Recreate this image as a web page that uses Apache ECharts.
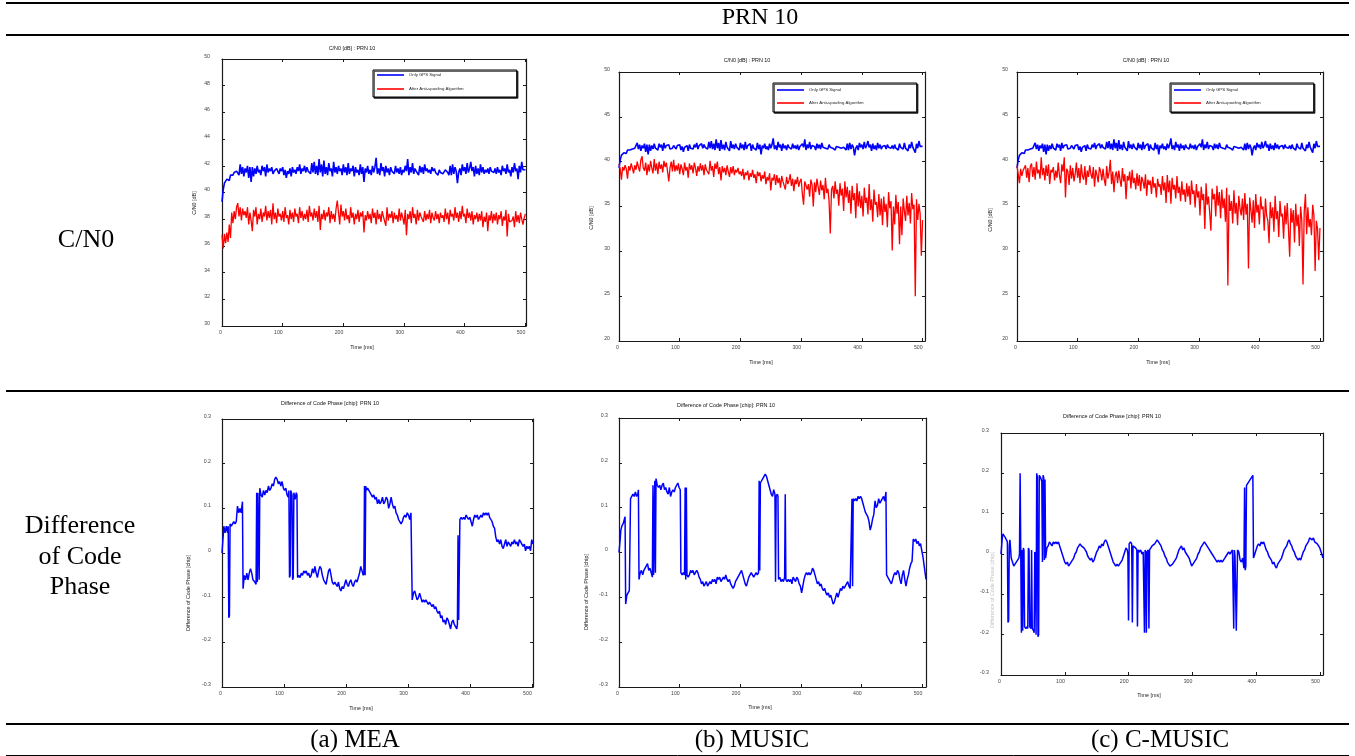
<!DOCTYPE html>
<html><head><meta charset="utf-8">
<script src="https://cdn.jsdelivr.net/npm/echarts@6/dist/echarts.min.js"></script>
<style>html,body{margin:0;padding:0;background:#fff}#c{width:1355px;height:756px}</style>
</head><body><div id="c"></div>
<script>
// ---------------- DATA ----------------
const cn0Step = 2; // ms between C/N0 samples (t = 0..500)
const columnLabels = ['(a) MEA', '(b) MUSIC', '(c) C-MUSIC'];
const rowLabels = ['C/N0', 'Difference\nof Code\nPhase'];
const headerLabel = 'PRN 10';
const legendNames = ['Only GPS Signal', 'After Anti-spoofing Algorithm'];

const gpsOnlyCn0 = [
39.3,40.2,40.7,40.6,41.0,41.1,40.9,41.3,41.4,41.3,41.5,41.4,41.6,41.5,41.3,42.1,41.4,41.9,41.2,41.8,41.5,42.0,41.1,41.9,40.8,
41.9,41.2,41.8,41.4,42.0,41.5,41.7,41.3,42.0,41.6,41.9,41.2,42.1,41.5,41.8,41.6,41.9,41.4,41.6,41.5,41.8,41.7,41.4,41.8,41.6,
41.9,41.3,41.7,41.1,41.6,41.4,41.8,41.2,41.9,41.5,41.7,41.4,41.9,41.6,42.1,41.4,41.8,41.6,42.0,41.5,41.9,41.6,41.7,41.4,42.2,
41.5,42.3,41.4,42.0,41.3,42.5,41.5,42.1,41.2,42.4,41.4,41.9,41.3,42.2,41.6,41.8,41.2,42.3,41.5,41.9,41.4,42.0,41.6,41.8,41.3,
42.1,41.5,41.9,41.3,42.2,41.4,41.8,41.6,42.0,41.2,41.9,41.5,41.7,41.3,42.1,41.4,41.9,40.8,41.8,41.5,42.0,41.4,41.7,41.3,42.0,
41.5,41.9,42.6,41.4,41.8,41.3,42.2,41.6,41.9,41.2,42.0,41.5,41.8,41.3,41.9,41.6,41.7,41.4,42.0,41.5,41.8,41.4,41.9,41.3,41.7,
41.5,42.0,41.6,42.5,41.3,41.9,41.5,42.2,41.4,41.8,41.6,41.7,41.3,42.0,41.5,41.9,41.4,42.1,41.6,41.8,41.5,41.7,41.4,41.9,41.6,
41.8,41.5,41.6,41.3,41.7,41.5,41.6,41.4,41.5,41.7,41.6,41.5,41.3,42.0,41.3,42.1,41.4,41.9,41.6,40.7,41.5,41.8,41.3,42.1,41.6,
41.9,41.4,42.2,41.5,41.8,42.3,41.6,41.9,41.2,42.0,41.4,41.8,41.3,42.1,41.5,41.9,41.4,41.7,41.5,41.8,41.4,41.9,41.6,41.7,41.5,
41.8,41.4,41.9,41.5,41.7,41.3,42.0,41.6,41.8,41.4,42.1,41.5,41.7,41.2,41.9,41.5,42.2,41.6,41.8,41.0,42.0,41.5,42.3,41.7,41.8,
41.7];

const meaCn0 = [
36.8,35.8,36.9,36.2,37.0,36.3,37.6,36.6,38.5,37.7,38.6,38.0,38.9,39.2,38.2,38.9,37.9,38.8,38.3,38.6,38.1,38.9,37.6,38.5,37.9,
37.1,38.7,38.2,38.9,37.6,38.4,38.0,38.8,37.8,38.5,38.2,39.0,37.9,38.6,38.1,38.7,37.6,39.2,38.0,38.5,37.7,38.8,38.2,38.4,37.9,
38.6,37.8,38.9,38.1,38.3,37.6,38.7,38.0,38.5,37.8,38.8,38.2,38.4,37.7,38.9,38.1,38.6,37.9,38.4,38.0,38.7,37.8,39.0,38.2,38.5,
37.9,38.8,38.1,38.6,37.8,39.0,37.2,38.4,38.0,38.7,37.9,38.5,38.2,38.9,37.7,38.6,38.0,38.4,37.8,38.8,39.4,38.5,37.6,39.1,38.2,
38.6,37.9,38.8,38.0,38.3,37.7,38.9,38.1,38.5,37.6,38.4,38.0,38.7,37.8,38.5,38.2,38.6,37.0,38.3,37.9,38.6,38.0,38.4,37.7,38.8,
38.1,38.5,37.6,38.7,38.0,38.4,37.8,38.6,38.2,38.3,37.5,38.9,37.9,38.4,38.1,38.6,37.7,38.5,38.0,38.3,37.8,38.8,37.9,38.5,38.1,
37.6,38.7,36.8,38.4,38.0,38.6,37.7,38.9,38.1,38.4,37.6,38.7,37.9,38.5,38.2,38.3,37.8,38.6,37.9,38.4,38.0,38.7,37.7,38.5,38.1,
37.9,38.6,38.0,38.4,37.7,38.5,38.1,38.3,37.8,38.8,38.0,38.5,37.6,38.7,38.2,38.4,37.9,38.9,38.1,38.5,37.8,38.6,38.0,39.0,38.2,
38.4,37.7,38.8,38.1,38.5,37.9,38.6,37.6,38.3,38.0,38.5,37.8,38.4,37.9,38.6,37.4,38.2,37.8,38.5,37.1,38.3,37.9,38.6,37.7,38.4,
37.9,38.5,37.6,38.3,38.0,38.6,37.5,38.2,37.9,38.7,36.7,38.4,37.8,37.7,37.9,38.2,37.4,38.6,37.8,38.3,37.7,38.5,38.0,37.6,38.1,
38.4];

const musicCn0 = [
39.7,39.2,38.0,39.4,39.0,39.6,39.2,38.1,39.5,39.0,39.8,39.3,38.7,39.6,39.1,40.0,39.4,38.9,40.2,40.6,39.3,39.0,39.9,38.5,39.7,
38.9,40.1,39.3,38.7,40.3,39.0,39.8,38.6,40.0,39.2,39.7,38.8,40.1,39.4,39.9,38.9,37.8,39.3,40.0,38.9,40.2,38.9,39.6,39.0,39.8,
38.6,39.7,39.2,38.5,39.9,39.0,39.4,38.2,39.8,39.1,39.6,38.7,39.9,39.3,38.4,39.5,38.9,39.8,39.0,39.6,38.5,39.7,39.1,39.3,38.6,
40.1,39.0,39.5,38.3,39.8,39.2,40.0,38.6,39.4,37.9,39.5,38.8,39.3,38.5,39.6,38.9,38.3,39.4,38.7,39.5,38.5,39.1,38.8,39.3,38.6,
38.9,38.4,39.2,38.0,38.8,38.5,39.0,37.9,38.7,38.3,39.1,38.2,38.6,37.6,38.9,38.4,38.8,37.8,38.5,38.1,38.9,37.5,38.3,37.9,38.7,
36.8,38.2,37.9,38.6,37.4,38.5,37.6,38.2,37.1,38.4,37.8,38.0,36.9,38.3,37.5,37.9,38.6,37.3,38.1,36.7,38.0,37.5,38.3,37.2,37.8,
38.1,36.4,35.2,37.8,38.0,36.9,37.5,36.1,38.0,37.4,35.0,37.7,36.6,38.1,37.2,36.3,37.9,36.8,37.4,35.8,38.2,36.5,37.0,35.6,32.0,
36.9,37.3,35.9,37.8,36.4,36.9,35.1,37.6,36.2,37.0,34.5,37.8,36.0,37.2,35.4,36.8,34.2,37.3,35.7,36.5,33.7,37.6,35.0,36.7,34.8,
36.2,33.9,37.1,35.4,36.0,34.1,37.5,34.6,35.8,33.3,36.9,35.2,35.5,33.8,36.4,34.0,35.9,32.9,36.1,34.4,35.3,32.7,36.6,34.8,35.6,
30.1,35.0,33.0,36.3,34.2,35.5,30.8,35.0,31.8,35.9,34.5,33.4,36.2,34.0,35.4,33.1,36.5,34.7,35.2,25.0,35.8,33.5,35.3,34.2,29.5,
33.5];

const cmusicCn0 = [
39.5,38.6,37.6,39.2,38.4,39.0,38.9,39.6,38.2,39.3,37.7,39.5,39.8,38.3,39.4,38.0,40.0,38.7,39.1,38.1,40.5,38.5,39.3,37.9,39.6,
38.4,39.7,37.5,39.1,38.8,39.4,37.9,39.0,38.2,39.9,38.5,37.6,39.7,38.9,40.5,36.0,39.2,38.9,37.4,39.6,38.1,39.3,37.8,38.6,39.9,
38.2,39.3,37.6,39.7,38.4,38.0,39.5,37.4,39.0,38.3,39.6,38.6,38.1,39.4,37.2,39.1,38.5,37.7,39.4,38.9,37.9,39.2,38.0,37.3,39.5,
38.1,38.8,40.2,37.5,38.9,36.6,38.4,38.9,37.6,39.0,38.0,37.2,39.3,37.8,38.6,35.8,38.4,37.9,38.9,37.0,39.1,37.6,38.2,36.9,38.7,
37.3,38.5,36.7,38.3,37.8,37.0,38.6,36.2,38.0,37.4,37.9,36.4,38.3,37.1,37.6,36.0,38.1,37.2,37.5,36.3,38.4,36.8,37.7,35.4,38.5,
36.6,37.9,35.3,38.2,36.9,37.4,35.9,38.4,36.5,37.2,35.6,37.8,36.3,36.9,35.5,37.6,36.1,37.3,35.2,37.9,36.4,36.8,34.9,37.5,36.0,
36.7,34.0,37.2,35.7,36.4,32.5,37.6,35.2,36.1,34.3,32.3,37.0,35.8,36.4,33.9,37.3,35.1,36.6,33.7,36.9,34.8,35.9,33.3,37.1,26.2,
36.3,34.5,35.6,33.1,36.8,34.2,35.4,32.9,36.2,34.8,34.0,35.9,33.5,36.5,34.1,35.3,28.1,36.0,34.6,33.2,35.7,32.6,36.4,34.3,35.2,
33.0,36.1,34.7,35.0,32.3,35.9,34.0,33.4,30.9,35.5,33.7,34.9,32.2,36.2,33.6,34.5,31.6,35.6,33.9,34.2,31.4,35.1,33.0,35.4,32.5,
29.4,34.8,33.2,34.6,31.0,35.3,32.8,34.1,30.6,35.0,33.5,26.3,34.4,36.4,31.9,34.9,32.7,33.6,31.8,35.2,34.0,27.8,33.4,32.5,29.0,
32.6];

// code phase difference [chip] as [time ms, value]
const meaPhase = [[0,0],[2,0.04],[3,0.06],[5,0.045],[7,0.06],[9,0.045],[10,0.06],[11,-0.145],[12,-0.14],[13,0.065],[15,0.06],[17,0.065],[19,0.07],[21,0.065],[23,0.07],[25,0.105],[27,0.09],[29,0.1],[31,0.09],[33,0.115],[34,-0.08],[36,-0.05],[38,-0.06],[40,-0.045],[42,-0.06],[44,-0.045],[46,-0.035],[48,-0.045],[50,-0.06],[53,-0.065],[55,-0.07],[56,0.135],[57,-0.065],[58,0.135],[60,-0.06],[61,0.145],[63,0.13],[65,0.125],[67,0.14],[69,0.13],[71,0.14],[73,0.135],[75,0.15],[77,0.14],[79,0.145],[81,0.155],[83,0.15],[85,0.165],[87,0.17],[89,0.165],[91,0.155],[93,0.16],[95,0.15],[97,0.16],[99,0.145],[101,0.14],[103,0.145],[105,0.13],[107,0.125],[108,0.14],[109,-0.055],[110,-0.05],[111,0.14],[113,0.13],[114,-0.06],[115,-0.055],[116,0.135],[118,0.12],[120,0.135],[121,0.13],[122,-0.055],[124,-0.05],[126,-0.055],[128,-0.045],[130,-0.05],[132,-0.04],[134,-0.045],[136,-0.04],[138,-0.05],[140,-0.045],[142,-0.055],[144,-0.05],[146,-0.035],[148,-0.045],[150,-0.03],[152,-0.045],[154,-0.055],[156,-0.04],[158,-0.03],[160,-0.035],[162,-0.05],[164,-0.06],[166,-0.065],[168,-0.07],[170,-0.055],[172,-0.04],[174,-0.035],[176,-0.05],[178,-0.065],[180,-0.07],[182,-0.065],[184,-0.07],[186,-0.075],[188,-0.065],[190,-0.08],[192,-0.085],[194,-0.075],[196,-0.08],[198,-0.07],[200,-0.06],[202,-0.07],[204,-0.075],[206,-0.065],[208,-0.06],[210,-0.07],[212,-0.075],[214,-0.065],[216,-0.06],[218,-0.065],[220,-0.055],[222,-0.045],[224,-0.03],[226,-0.04],[228,-0.05],[229,-0.045],[230,0.15],[231,-0.05],[232,0.15],[233,0.14],[235,0.145],[237,0.14],[239,0.135],[241,0.13],[243,0.125],[245,0.13],[247,0.12],[249,0.125],[251,0.11],[253,0.12],[255,0.11],[257,0.115],[259,0.125],[261,0.11],[263,0.115],[265,0.125],[267,0.12],[269,0.1],[271,0.11],[273,0.125],[275,0.11],[277,0.1],[279,0.105],[281,0.09],[283,0.085],[285,0.075],[287,0.07],[289,0.065],[291,0.07],[293,0.08],[295,0.085],[297,0.08],[299,0.09],[301,0.085],[303,0.075],[305,0.09],[306,0.092],[307,-0.105],[309,-0.09],[311,-0.085],[313,-0.095],[315,-0.105],[317,-0.1],[319,-0.09],[321,-0.1],[323,-0.11],[325,-0.105],[327,-0.11],[329,-0.105],[331,-0.11],[333,-0.115],[335,-0.11],[337,-0.115],[339,-0.12],[341,-0.115],[343,-0.125],[345,-0.12],[347,-0.13],[349,-0.135],[351,-0.13],[353,-0.145],[355,-0.14],[357,-0.155],[359,-0.15],[361,-0.16],[363,-0.145],[365,-0.15],[367,-0.16],[369,-0.17],[371,-0.155],[373,-0.15],[375,-0.16],[377,-0.165],[379,-0.17],[380,-0.16],[381,0.04],[382,-0.15],[383,-0.15],[384,0.075],[386,0.08],[388,0.075],[390,0.08],[392,0.075],[394,0.085],[396,0.08],[398,0.075],[400,0.08],[402,0.07],[404,0.06],[406,0.075],[408,0.085],[410,0.08],[412,0.085],[414,0.075],[416,0.08],[418,0.085],[420,0.08],[422,0.09],[424,0.085],[426,0.09],[428,0.085],[430,0.09],[432,0.08],[434,0.075],[436,0.07],[438,0.06],[440,0.055],[442,0.035],[444,0.025],[446,0.03],[448,0.02],[450,0.03],[452,0.015],[454,0.01],[456,0.02],[458,0.03],[460,0.015],[462,0.025],[464,0.02],[466,0.015],[468,0.025],[470,0.02],[472,0.03],[474,0.02],[476,0.025],[478,0.015],[480,0.03],[482,0.025],[484,0.02],[486,0.015],[488,0.02],[490,0.005],[492,0.015],[494,0.01],[496,0.015],[498,0.005],[500,0.03],[502,0.02]];

const musicPhase = [[0,0],[2,0.03],[3,0.05],[5,0.06],[7,0.065],[9,0.075],[10,0.08],[11,-0.115],[13,-0.095],[15,-0.09],[17,-0.085],[18,-0.085],[19,0.12],[21,0.12],[23,0.13],[25,0.125],[27,0.135],[29,0.125],[31,0.13],[32,0.14],[33,-0.06],[35,-0.045],[37,-0.04],[39,-0.05],[41,-0.04],[43,-0.035],[45,-0.03],[47,-0.025],[49,-0.04],[51,-0.035],[53,-0.045],[55,-0.055],[56,0.15],[57,-0.05],[58,-0.05],[59,0.16],[60,-0.045],[61,0.165],[63,0.15],[65,0.145],[67,0.15],[69,0.14],[71,0.15],[73,0.155],[75,0.14],[77,0.145],[79,0.135],[81,0.13],[83,0.145],[85,0.125],[87,0.135],[89,0.14],[91,0.135],[93,0.145],[95,0.15],[97,0.155],[99,0.145],[101,0.14],[102,-0.045],[104,-0.05],[106,-0.045],[108,-0.05],[109,0.145],[110,-0.06],[111,0.145],[112,-0.05],[114,-0.055],[116,-0.05],[118,-0.04],[120,-0.045],[122,-0.04],[124,-0.05],[126,-0.045],[128,-0.04],[130,-0.045],[132,-0.055],[134,-0.06],[136,-0.07],[138,-0.065],[140,-0.075],[142,-0.07],[144,-0.065],[146,-0.075],[148,-0.07],[150,-0.065],[152,-0.07],[154,-0.06],[156,-0.065],[158,-0.06],[160,-0.07],[162,-0.055],[164,-0.06],[166,-0.055],[168,-0.065],[170,-0.06],[172,-0.055],[174,-0.06],[176,-0.05],[178,-0.06],[180,-0.065],[182,-0.06],[184,-0.07],[186,-0.075],[188,-0.08],[190,-0.075],[192,-0.065],[194,-0.06],[196,-0.055],[198,-0.05],[200,-0.045],[202,-0.04],[204,-0.05],[206,-0.06],[208,-0.07],[210,-0.075],[212,-0.065],[214,-0.055],[216,-0.05],[218,-0.045],[220,-0.05],[222,-0.055],[224,-0.05],[226,-0.045],[228,-0.05],[230,-0.045],[231,0.16],[232,-0.04],[233,0.155],[235,0.16],[237,0.165],[239,0.17],[241,0.175],[243,0.17],[245,0.16],[247,0.15],[249,0.14],[251,0.13],[253,0.125],[255,0.14],[257,0.13],[258,-0.065],[259,0.125],[261,0.13],[262,0.125],[263,-0.06],[265,-0.055],[267,-0.065],[269,-0.06],[271,-0.065],[273,-0.055],[274,0.13],[275,-0.06],[277,-0.065],[279,-0.06],[281,-0.065],[283,-0.06],[285,-0.07],[287,-0.055],[289,-0.06],[291,-0.065],[293,-0.055],[295,-0.06],[297,-0.07],[299,-0.075],[301,-0.09],[303,-0.075],[305,-0.06],[307,-0.05],[309,-0.045],[311,-0.05],[313,-0.045],[315,-0.05],[317,-0.045],[319,-0.035],[321,-0.04],[323,-0.05],[325,-0.06],[327,-0.07],[329,-0.065],[331,-0.075],[333,-0.07],[335,-0.08],[337,-0.085],[339,-0.08],[341,-0.09],[343,-0.095],[345,-0.09],[347,-0.1],[349,-0.095],[351,-0.105],[353,-0.115],[355,-0.11],[357,-0.1],[359,-0.09],[361,-0.1],[363,-0.09],[365,-0.08],[367,-0.085],[369,-0.075],[371,-0.08],[373,-0.075],[375,-0.07],[377,-0.065],[379,-0.075],[381,-0.08],[383,-0.08],[384,0.12],[385,-0.075],[386,0.12],[388,0.115],[390,0.12],[392,0.115],[394,0.125],[396,0.12],[398,0.125],[400,0.12],[402,0.11],[404,0.1],[406,0.09],[408,0.085],[410,0.08],[412,0.07],[414,0.05],[416,0.06],[418,0.075],[420,0.085],[422,0.115],[424,0.1],[426,0.105],[428,0.12],[430,0.11],[432,0.115],[434,0.12],[436,0.125],[438,0.115],[440,0.135],[441,-0.05],[443,-0.055],[445,-0.06],[447,-0.065],[449,-0.07],[451,-0.06],[453,-0.05],[455,-0.045],[457,-0.05],[459,-0.04],[461,-0.045],[463,-0.06],[465,-0.07],[467,-0.05],[469,-0.04],[471,-0.06],[473,-0.075],[475,-0.06],[477,-0.05],[479,-0.035],[481,-0.025],[483,-0.02],[485,0.03],[487,0.025],[489,0.03],[491,0.02],[493,0.025],[495,0.015],[497,0.02],[499,0.005],[501,-0.01],[503,-0.03],[505,-0.05],[506,-0.06]];

const cmusicPhase = [[0,0],[2,0.04],[3,0.05],[5,0.045],[7,0.04],[9,0.04],[10,0.03],[11,-0.17],[12,-0.165],[13,0.02],[14,0.035],[16,-0.01],[18,-0.02],[20,-0.03],[22,-0.025],[24,-0.02],[26,-0.02],[28,-0.01],[29,0.0],[30,0.2],[31,0.0],[32,-0.195],[33,0.01],[34,-0.19],[35,0.015],[36,0.01],[37,-0.18],[39,-0.185],[41,-0.18],[42,-0.185],[43,0.015],[44,0.01],[45,-0.18],[47,-0.185],[48,0.01],[49,-0.185],[51,-0.19],[52,-0.195],[53,0.005],[54,0.0],[55,-0.2],[56,0.2],[57,0.19],[58,-0.205],[59,-0.2],[60,0.195],[62,0.19],[64,0.18],[65,-0.02],[66,0.195],[67,0.19],[68,-0.015],[69,0.185],[70,-0.01],[72,0.015],[74,0.02],[76,0.03],[78,0.025],[80,0.02],[82,0.03],[84,0.025],[86,0.03],[88,0.025],[90,0.03],[92,0.02],[94,0.01],[96,0.0],[98,-0.01],[100,-0.02],[102,-0.025],[104,-0.02],[106,-0.03],[108,-0.025],[110,-0.02],[112,-0.015],[114,-0.01],[116,0.0],[118,0.005],[120,0.015],[122,0.02],[124,0.025],[126,0.02],[128,0.02],[130,0.015],[132,0.01],[134,0.005],[136,-0.005],[138,-0.01],[140,-0.015],[142,-0.01],[144,-0.02],[146,-0.015],[148,-0.005],[150,0.005],[152,0.01],[154,0.02],[156,0.015],[158,0.025],[160,0.02],[162,0.03],[164,0.035],[166,0.03],[168,0.02],[170,0.01],[172,0.0],[174,-0.01],[176,-0.02],[178,-0.025],[180,-0.03],[182,-0.025],[184,-0.03],[186,-0.025],[188,-0.02],[190,-0.015],[192,-0.005],[194,0.005],[196,0.015],[198,0.01],[199,0.0],[200,-0.165],[201,0.025],[203,0.03],[205,0.025],[206,-0.17],[207,0.02],[209,0.02],[211,0.015],[213,0.01],[214,-0.18],[215,0.01],[217,0.005],[219,0.01],[221,0.0],[223,0.005],[225,-0.195],[226,0.01],[227,0.005],[228,-0.195],[229,0.005],[231,0.01],[232,-0.185],[233,0.01],[235,0.015],[237,0.02],[239,0.02],[241,0.025],[243,0.03],[245,0.035],[247,0.03],[249,0.025],[251,0.02],[253,0.01],[255,0.005],[257,-0.005],[259,-0.01],[261,-0.02],[263,-0.025],[265,-0.03],[267,-0.03],[269,-0.025],[271,-0.02],[273,-0.015],[275,-0.01],[277,0.0],[279,0.01],[281,0.015],[283,0.02],[285,0.01],[287,0.015],[289,0.005],[291,0.0],[293,-0.005],[295,-0.01],[297,-0.02],[299,-0.03],[301,-0.025],[303,-0.02],[305,-0.015],[307,-0.01],[309,0.0],[311,0.005],[313,0.015],[315,0.02],[317,0.025],[319,0.03],[321,0.025],[323,0.02],[325,0.02],[327,0.01],[329,0.005],[331,0.0],[333,-0.005],[335,-0.01],[337,-0.015],[339,-0.02],[341,-0.015],[343,-0.02],[345,-0.015],[347,-0.02],[349,-0.015],[351,-0.01],[353,-0.005],[355,0.0],[357,0.005],[359,0.0],[361,0.005],[363,0.01],[365,-0.185],[366,0.01],[367,-0.005],[369,-0.19],[370,-0.19],[371,0.01],[373,0.005],[375,-0.015],[377,-0.02],[379,-0.01],[381,-0.035],[382,0.165],[383,-0.04],[384,-0.03],[385,0.17],[387,0.175],[389,0.18],[391,0.185],[393,0.19],[395,0.195],[396,-0.01],[398,0.0],[400,0.01],[402,0.02],[404,0.025],[406,0.02],[408,0.03],[410,0.025],[412,0.03],[414,0.02],[416,0.01],[418,0.005],[420,-0.005],[422,-0.01],[424,-0.015],[426,-0.025],[428,-0.02],[430,-0.03],[432,-0.035],[434,-0.025],[436,-0.02],[438,-0.015],[440,-0.01],[442,0.0],[444,0.01],[446,0.015],[448,0.02],[450,0.03],[452,0.035],[454,0.025],[456,0.02],[458,0.01],[460,0.005],[462,-0.005],[464,-0.01],[466,-0.015],[468,-0.01],[470,-0.015],[472,-0.005],[474,0.005],[476,0.01],[478,0.02],[480,0.025],[482,0.03],[484,0.04],[486,0.04],[488,0.035],[490,0.04],[492,0.03],[494,0.03],[496,0.025],[498,0.02],[500,0.015],[502,0.005],[504,-0.005],[505,-0.01]];

// ---------------- LAYOUT ----------------
const SANS = 'Liberation Sans, Arial, sans-serif';
const SERIF = 'Liberation Serif, Times New Roman, serif';
const panels = [
  {grid:{left:222,top:59,width:304,height:267},  xMax:501, yMin:30,  yMax:50,  yInt:2,   lm:12, title:'C/N0 [dB] : PRN 10', tx:352, ty:49, xn:[362,348], yn:[195,203], yName:'C/N0 [dB]'},
  {grid:{left:619,top:72,width:306,height:269},  xMax:504, yMin:20,  yMax:50,  yInt:5,   lm:9,  title:'C/N0 [dB] : PRN 10', tx:747, ty:61, xn:[761,363], yn:[592,218], yName:'C/N0 [dB]'},
  {grid:{left:1017,top:72,width:306,height:269}, xMax:505, yMin:20,  yMax:50,  yInt:5,   lm:9,  title:'C/N0 [dB] : PRN 10', tx:1146, ty:61, xn:[1158,363], yn:[991,220], yName:'C/N0 [dB]'},
  {grid:{left:222,top:419,width:311,height:268}, xMax:502, yMin:-0.3,yMax:0.3, yInt:0.1, lm:11, title:'Difference of Code Phase [chip]: PRN 10', tx:330, ty:404, xn:[361,709], yn:[189,593], yName:'Difference of Code Phase [chip]'},
  {grid:{left:619,top:418,width:307,height:269}, xMax:506, yMin:-0.3,yMax:0.3, yInt:0.1, lm:11, title:'Difference of Code Phase [chip]: PRN 10', tx:726, ty:406, xn:[760,708], yn:[587,592], yName:'Difference of Code Phase [chip]'},
  {grid:{left:1001,top:433,width:322,height:242},xMax:505, yMin:-0.3,yMax:0.3, yInt:0.1, lm:12, title:'Difference of Code Phase [chip]: PRN 10', tx:1112, ty:417, xn:[1149,696], yn:[993,590], yName:'Difference of Code Phase [chip]', faint:true}
];

const toSeries = arr => arr.map((v, i) => [i * cn0Step, v]);
const axisLine = {show:true, onZero:false, lineStyle:{color:'#1a1a1a', width:1.2}};
const axisTick = {show:true, inside:true, length:3, lineStyle:{color:'#1a1a1a', width:1}};

const grids = [], xAxes = [], yAxes = [], titles = [], graphics = [];
panels.forEach((p, i) => {
  grids.push(Object.assign({containLabel:false}, p.grid));
  const xb = {type:'value', gridIndex:i, min:0, max:p.xMax, interval:100, splitLine:{show:false}, axisLine, axisTick};
  xAxes.push(Object.assign({}, xb, {position:'bottom', axisLabel:{show:true, fontSize:5.2, color:'#444', fontFamily:SANS, margin:4, align:'right', formatter: v => (v % 100 === 0 ? String(v) : '')}}));
  xAxes.push(Object.assign({}, xb, {position:'top', axisLabel:{show:false}}));
  const yb = {type:'value', gridIndex:i, min:p.yMin, max:p.yMax, interval:p.yInt, splitLine:{show:false}, axisLine, axisTick};
  yAxes.push(Object.assign({}, yb, {position:'left', axisLabel:{show:true, fontSize:5.2, color:'#444', fontFamily:SANS, margin:p.lm, verticalAlign:'bottom'}}));
  yAxes.push(Object.assign({}, yb, {position:'right', axisLabel:{show:false}}));
  titles.push({text:p.title, left:p.tx, top:p.ty, textAlign:'center', textVerticalAlign:'middle', padding:0,
    textStyle:{fontSize:5.4, fontWeight:'normal', color:'#111', fontFamily:SANS}});
  graphics.push({type:'text', x:p.xn[0], y:p.xn[1], style:{text:'Time [ms]', fontSize:5.4, fontFamily:SANS, fill:'#222', align:'center', verticalAlign:'middle'}});
  graphics.push({type:'text', x:p.yn[0], y:p.yn[1], rotation:Math.PI/2, style:{text:p.yName, fontSize:5.4, fontFamily:SANS, fill:p.faint ? '#c4c4c4' : '#222', align:'center', verticalAlign:'middle'}});
});

// table rules
[[3,2],[35,2],[391,2],[724,2],[755.5,1]].forEach(([y, w]) => {
  graphics.push({type:'line', shape:{x1:6, y1:y, x2:1349, y2:y}, style:{stroke:'#000', lineWidth:w}});
});
const bigText = (text, x, y, size) => ({type:'text', x, y, style:{text, fontSize:size, fontFamily:SERIF, fill:'#000', align:'center', verticalAlign:'middle', lineHeight:30.5}});
graphics.push(bigText(headerLabel, 760, 18, 24));
graphics.push(bigText(rowLabels[0], 86, 240, 26));
graphics.push(bigText(rowLabels[1], 80, 557, 26));
graphics.push(bigText(columnLabels[0], 355, 740, 25));
graphics.push(bigText(columnLabels[1], 752, 740, 25));
graphics.push(bigText(columnLabels[2], 1160, 740, 25));

const BLUE = '#0000ff', RED = '#ff0000';
const lineSeries = (name, data, panel, color, width) => ({
  name, type:'line', data, xAxisIndex:panel*2, yAxisIndex:panel*2, color,
  showSymbol:false, symbol:'none', sampling:null, clip:true, animation:false,
  lineStyle:{color, width}, emphasis:{disabled:true}
});
const series = [
  lineSeries(legendNames[0], toSeries(gpsOnlyCn0), 0, BLUE, 1.6),
  lineSeries(legendNames[1], toSeries(meaCn0), 0, RED, 1.3),
  lineSeries(legendNames[0], toSeries(gpsOnlyCn0), 1, BLUE, 1.6),
  lineSeries(legendNames[1], toSeries(musicCn0), 1, RED, 1.3),
  lineSeries(legendNames[0], toSeries(gpsOnlyCn0), 2, BLUE, 1.6),
  lineSeries(legendNames[1], toSeries(cmusicCn0), 2, RED, 1.3),
  lineSeries('MEA code phase difference', meaPhase, 3, BLUE, 1.5),
  lineSeries('MUSIC code phase difference', musicPhase, 4, BLUE, 1.5),
  lineSeries('C-MUSIC code phase difference', cmusicPhase, 5, BLUE, 1.5)
];

const legendAt = (left, top, pad, gap) => ({
  left, top, orient:'vertical', data:legendNames, selectedMode:false,
  icon:'rect', itemWidth:27, itemHeight:1.6, itemGap:gap, padding:pad,
  borderColor:'#000', borderWidth:1, backgroundColor:'#fff',
  shadowColor:'rgba(0,0,0,0.85)', shadowBlur:0, shadowOffsetX:1.2, shadowOffsetY:1.2,
  textStyle:{fontSize:4.3, fontFamily:SANS, color:'#222', lineHeight:6}
});

const chart = echarts.init(document.getElementById('c'), null, {renderer:'canvas'});
chart.setOption({
  backgroundColor:'#fff',
  animation:false,
  title:titles,
  grid:grids,
  xAxis:xAxes,
  yAxis:yAxes,
  legend:[legendAt(373, 70, [2,53,5,4], 8), legendAt(773, 83, [4,53,6,4], 7), legendAt(1170, 83, [4,53,6,4], 7)],
  series,
  graphic:graphics
});
</script></body></html>
